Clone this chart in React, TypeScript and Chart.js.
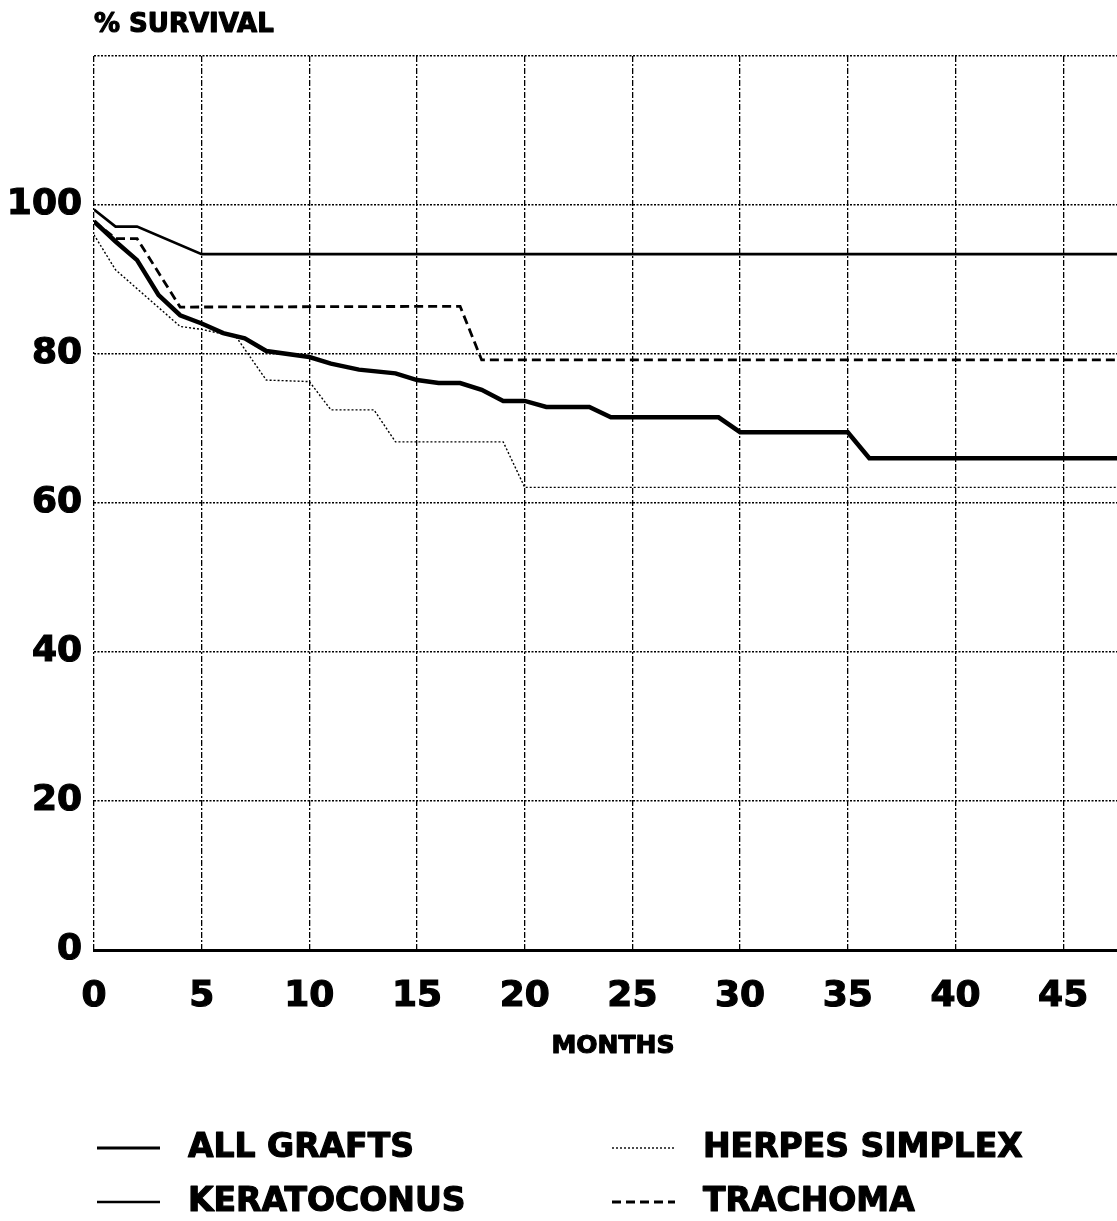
import React, { useEffect, useRef } from "react";
import { Chart, registerables } from "chart.js";

Chart.register(...registerables);

// ---- data ----
const seriesNames = ["ALL GRAFTS", "KERATOCONUS", "HERPES SIMPLEX", "TRACHOMA"];

const allGraftsMonths = [0, 1, 2, 3, 4, 5, 6, 7, 8, 10, 11, 12.3, 14, 15, 16, 17, 18, 19, 20, 21, 23, 24, 29, 30, 35, 36, 47.5];
const allGraftsValues = [97.8, 95.1, 92.6, 87.9, 85.2, 84.1, 82.8, 82.1, 80.4, 79.6, 78.7, 77.9, 77.4, 76.5, 76.1, 76.1, 75.2, 73.7, 73.7, 72.9, 72.9, 71.5, 71.5, 69.5, 69.5, 66.0, 66.0];

const keratoconusMonths = [0, 1, 2, 5, 47.5];
const keratoconusValues = [99.4, 97.1, 97.1, 93.4, 93.4];

const herpesMonths = [0, 1, 4, 5, 6.6, 8, 10, 11, 13, 14, 19, 20, 47.5];
const herpesValues = [96.0, 91.3, 83.7, 83.3, 82.3, 76.5, 76.3, 72.5, 72.5, 68.2, 68.2, 62.1, 62.1];

const trachomaMonths = [0, 1, 2, 4, 17, 18, 47.5];
const trachomaValues = [97.8, 95.5, 95.5, 86.3, 86.4, 79.2, 79.2];

const xTicks = [0, 5, 10, 15, 20, 25, 30, 35, 40, 45];
const yTicks = [0, 20, 40, 60, 80, 100];
const xMax = 47.5;
const yMax = 120;

const yTitle = "% SURVIVAL";
const xTitle = "MONTHS";

const zip = (xs: number[], ys: number[]) => xs.map((x, i) => ({ x, y: ys[i] }));

const FONT = "'DejaVu Sans', 'Liberation Sans', sans-serif";

export default function App() {
  const ref = useRef<HTMLCanvasElement | null>(null);

  useEffect(() => {
    document.body.style.margin = "0";
    document.body.style.overflow = "hidden";
    const canvas = ref.current;
    if (!canvas) return;

    const heavyText = (ctx: CanvasRenderingContext2D, t: string, x: number, y: number) => {
      ctx.lineWidth = 1.2;
      ctx.strokeStyle = "#000";
      ctx.lineJoin = "round";
      ctx.strokeText(t, x, y);
      ctx.fillText(t, x, y);
    };

    const textPlugin = {
      id: "extraText",
      afterDraw(chart: any) {
        const ctx = chart.ctx;
        const area = chart.chartArea;
        ctx.save();
        ctx.fillStyle = "#000";
        // y axis title
        ctx.font = `bold 26px ${FONT}`;
        ctx.textAlign = "left";
        ctx.textBaseline = "middle";
        heavyText(ctx, yTitle, area.left, 25);
        // x axis title
        ctx.font = `bold 25px ${FONT}`;
        ctx.textAlign = "center";
        heavyText(ctx, xTitle, 613, 1046);
        // legend
        const cols = [97, 612];
        const rows = [1148, 1202];
        chart.data.datasets.forEach((ds: any, i: number) => {
          const cx = cols[Math.floor(i / 2)];
          const cy = rows[i % 2];
          ctx.save();
          ctx.strokeStyle = "#000";
          ctx.lineWidth = Math.min(ds.borderWidth, 3);
          ctx.setLineDash(ds.borderDash || []);
          ctx.beginPath();
          ctx.moveTo(cx, cy);
          ctx.lineTo(cx + 63, cy);
          ctx.stroke();
          ctx.restore();
          ctx.font = `bold 33px ${FONT}`;
          ctx.textAlign = "left";
          ctx.textBaseline = "middle";
          heavyText(ctx, ds.label, cx + 91, cy);
        });
        ctx.restore();
      },
    };

    const tickFont = { family: FONT, size: 36, weight: "bold" };

    const chart = new Chart(canvas, {
      type: "line",
      data: {
        datasets: [
          {
            label: seriesNames[0],
            data: zip(allGraftsMonths, allGraftsValues),
            borderColor: "#000",
            borderWidth: 4.5,
            pointRadius: 0,
            tension: 0,
          },
          {
            label: seriesNames[1],
            data: zip(keratoconusMonths, keratoconusValues),
            borderColor: "#000",
            borderWidth: 2.6,
            pointRadius: 0,
            tension: 0,
          },
          {
            label: seriesNames[2],
            data: zip(herpesMonths, herpesValues),
            borderColor: "#000",
            borderWidth: 1.4,
            borderDash: [2, 2],
            pointRadius: 0,
            tension: 0,
          },
          {
            label: seriesNames[3],
            data: zip(trachomaMonths, trachomaValues),
            borderColor: "#000",
            borderWidth: 2.8,
            borderDash: [9, 5],
            pointRadius: 0,
            tension: 0,
          },
        ],
      },
      options: {
        responsive: false,
        animation: false,
        events: [],
        layout: { padding: { top: 56, bottom: 151, left: 0, right: 0 } },
        plugins: {
          legend: { display: false },
          tooltip: { enabled: false },
          title: { display: false },
        },
        scales: {
          x: {
            type: "linear",
            min: 0,
            max: xMax,
            afterFit: (s: any) => {
              s.height = 120;
            },
            afterBuildTicks: (s: any) => {
              s.ticks = xTicks.map((v) => ({ value: v }));
            },
            ticks: {
              color: "#000",
              font: tickFont,
              padding: 25,
              maxRotation: 0,
              autoSkip: false,
              textStrokeColor: "#000",
              textStrokeWidth: 1.2,
            },
            grid: {
              color: "#000",
              lineWidth: 1.3,
              drawTicks: false,
            },
            border: { display: true, color: "#000", width: 3, dash: [6, 2, 2, 2] },
          },
          y: {
            type: "linear",
            min: 0,
            max: yMax,
            afterFit: (s: any) => {
              s.width = 94;
            },
            afterBuildTicks: (s: any) => {
              s.ticks = [...yTicks, yMax].map((v) => ({ value: v }));
            },
            ticks: {
              color: "#000",
              font: tickFont,
              padding: 12,
              autoSkip: false,
              textStrokeColor: "#000",
              textStrokeWidth: 1.2,
              callback: (v: any) => (yTicks.includes(Number(v)) ? String(v) : ""),
            },
            grid: {
              color: "#000",
              lineWidth: 1.4,
              drawTicks: false,
            },
            border: { display: false, dash: [2, 1.5] },
          },
        },
      },
      plugins: [textPlugin],
    } as any);

    return () => chart.destroy();
  }, []);

  return (
    <div style={{ width: 1117, height: 1221 }}>
      <canvas ref={ref} width={1117} height={1221} style={{ display: "block" }} />
    </div>
  );
}
